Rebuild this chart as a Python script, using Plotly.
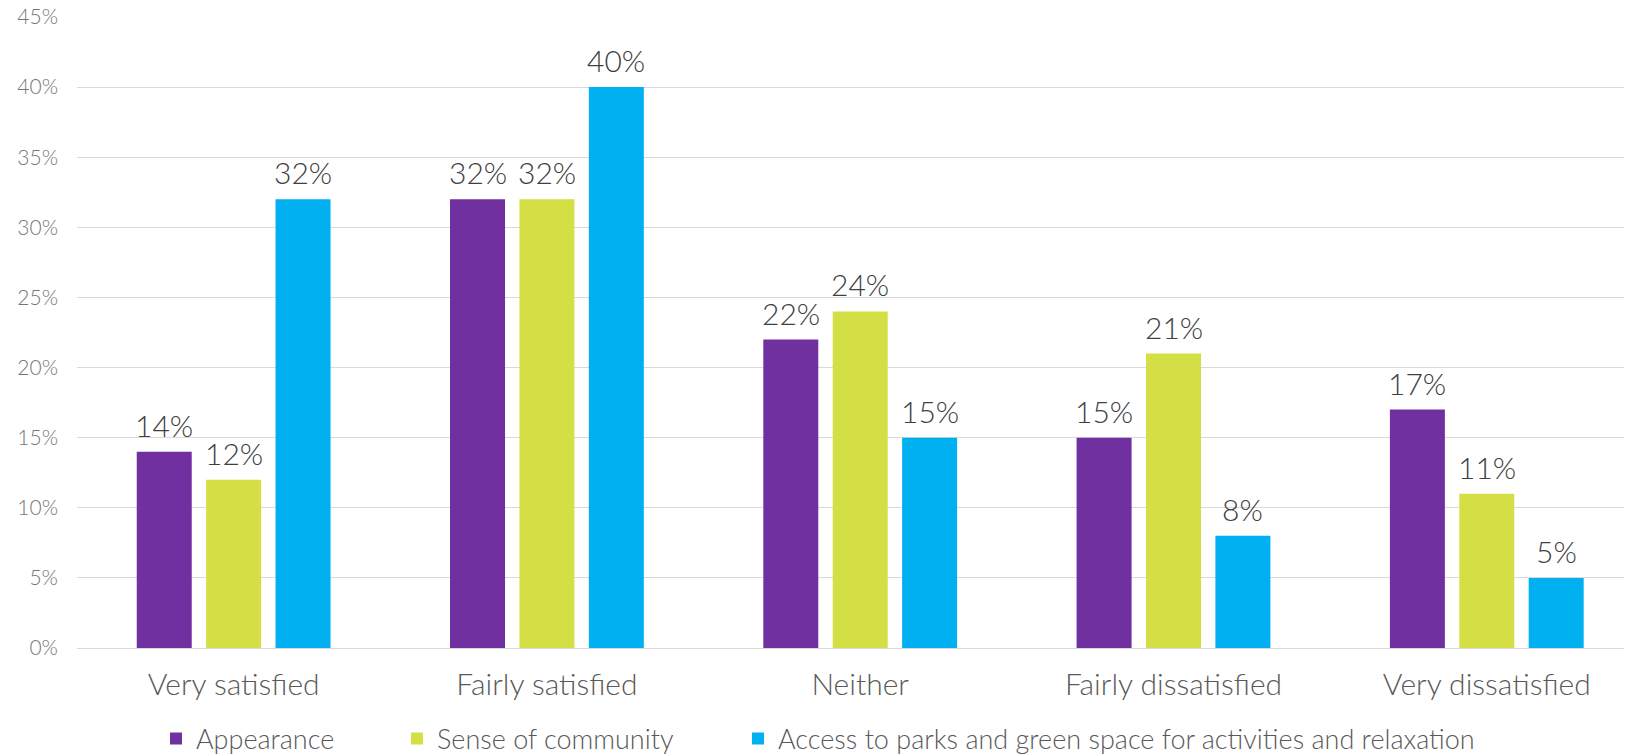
import plotly.graph_objects as go

categories = ["Very satisfied", "Fairly satisfied", "Neither", "Fairly dissatisfied", "Very dissatisfied"]
appearance = [14, 32, 22, 15, 17]
community = [12, 32, 24, 21, 11]
parks = [32, 40, 15, 8, 5]
series_names = ["Appearance", "Sense of community", "Access to parks and green space for activities and relaxation"]
series_values = [appearance, community, parks]
colors = ["#7030A0", "#D4DF45", "#00B0F0"]
y_ticks = [0, 5, 10, 15, 20, 25, 30, 35, 40, 45]
y_tick_labels = [f"{v}%" for v in y_ticks]

W, H = 1626, 756
ML, MR, MT, MB = 77, 2, 17, 108
plot_w = W - ML - MR
plot_h = H - MT - MB
x_range = [-0.5, 4.438]
cat_px = plot_w / (x_range[1] - x_range[0])
bargap = 0.3354
bargroupgap = 0.2075
slot_px = cat_px * (1 - bargap) / len(series_values)

FONT = "Lato, 'Open Sans', sans-serif"
WEIGHT = 300

fig = go.Figure()
for name, vals, col in zip(series_names, series_values, colors):
    fig.add_trace(go.Bar(x=categories, y=vals, name=name, marker=dict(color=col, line=dict(width=0))))

annotations = []
for i, vals in enumerate(series_values):
    off = (i - (len(series_values) - 1) / 2) * slot_px
    for c, v in zip(categories, vals):
        annotations.append(dict(x=c, y=v, xref="x", yref="y", text=f"{v}%", showarrow=False,
                                xshift=off, yshift=7, yanchor="bottom",
                                font=dict(family=FONT, size=30, color="#404040", weight=WEIGHT)))

legend_px = [156, 397, 738]
legend_keys = ["legend", "legend2", "legend3"]
for tr, key in zip(fig.data, legend_keys):
    tr.legend = key

layout_legends = {}
for key, px in zip(legend_keys, legend_px):
    layout_legends[key] = dict(
        x=(px - ML) / plot_w, xanchor="left",
        y=(MT + plot_h - 739) / plot_h, yanchor="middle",
        orientation="h", font=dict(family=FONT, size=27, color="#595959", weight=WEIGHT),
        bgcolor="rgba(0,0,0,0)", itemwidth=30,
    )

fig.update_layout(
    width=W, height=H,
    margin=dict(l=ML, r=MR, t=MT, b=MB, autoexpand=False),
    paper_bgcolor="white", plot_bgcolor="white",
    barmode="group", bargap=bargap, bargroupgap=bargroupgap,
    showlegend=True,
    annotations=annotations,
    xaxis=dict(range=x_range, tickfont=dict(family=FONT, size=30, color="#595959", weight=WEIGHT),
               showgrid=False, showline=False, ticks="", ticklabelstandoff=16, automargin=False),
    yaxis=dict(range=[0, 45], tickvals=y_ticks, ticktext=y_tick_labels,
               tickfont=dict(family=FONT, size=21, color="#767676", weight=WEIGHT),
               showgrid=True, gridcolor="#D9D9D9", gridwidth=1.3, zeroline=True,
               zerolinecolor="#D9D9D9", zerolinewidth=1.3, showline=False, ticks="",
               ticklabelstandoff=18, automargin=False),
    **layout_legends,
)

fig.write_html(
    "out.html",
    config={"displayModeBar": False},
    post_script="document.body.style.margin='0';document.body.style.overflow='hidden';",
)
